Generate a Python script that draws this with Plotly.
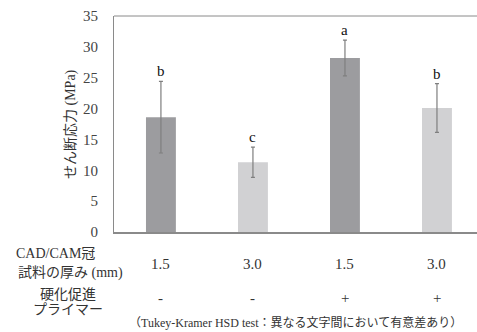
import plotly.graph_objects as go

# Shear stress by specimen thickness and primer use
thickness = ["1.5", "3.0", "1.5", "3.0"]
primer = ["-", "-", "+", "+"]
means = [18.6, 11.3, 28.2, 20.1]
sds = [5.8, 2.45, 2.9, 3.95]
letters = ["b", "c", "a", "b"]
bar_colors = ["#9c9c9f", "#d1d1d3", "#9c9c9f", "#d1d1d3"]
y_ticks = [0, 5, 10, 15, 20, 25, 30, 35]

W, H = 477, 332
L, R, T, B = 114, 0, 16, 100
pw = W - L - R
ph = H - T - B
x_lo, x_hi = -0.51, 3.435

serif = "'Liberation Serif', 'Times New Roman', 'Noto Sans CJK JP', serif"
txt = "#333333"

xs = list(range(len(means)))

fig = go.Figure()
fig.add_trace(go.Bar(
    x=xs, y=means, width=0.325,
    marker=dict(color=bar_colors, line=dict(width=0)),
    error_y=dict(type="data", array=sds, visible=True,
                 color="#7f7f7f", thickness=1.2, width=2),
    hoverinfo="skip",
))

def px_x(p):
    return (p - L) / pw

def px_y(p):
    return 1 - (p - T) / ph

def label(x, y, text, size=14, xref="paper", **kw):
    d = dict(x=x, y=y, xref=xref, yref="paper", text=text, showarrow=False,
             xanchor="center", yanchor="middle",
             font=dict(family=serif, size=size, color=txt))
    d.update(kw)
    return d

ann = []
# significance letters above error bars
for i, (m, s, l) in enumerate(zip(means, sds, letters)):
    ann.append(dict(x=i, y=m + s, xref="x", yref="y", text=l, showarrow=False,
                    xanchor="center", yanchor="bottom", yshift=0,
                    font=dict(family=serif, size=15, color="#111111")))

# row values under each bar
for i, (t, p) in enumerate(zip(thickness, primer)):
    ann.append(label(i, px_y(264), t, size=15, xref="x"))
    ann.append(label(i, px_y(298), p, size=15, xref="x"))

# row headers, y-axis title and footnote
ann += [
    label(px_x(55), px_y(253), "CAD/CAM冠", size=14),
    label(px_x(70), px_y(273), "試料の厚み (mm)", size=14),
    label(px_x(68), px_y(294), "硬化促進", size=14),
    label(px_x(68), px_y(309), "プライマー", size=14),
    label(px_x(128), px_y(315), "（Tukey-Kramer HSD test：異なる文字間において有意差あり）",
          size=12, xanchor="left", yanchor="top", borderpad=0),
    label(px_x(71), px_y(124), "せん断応力 (MPa)", size=14, textangle=-90),
]

fig.update_layout(
    width=W, height=H,
    margin=dict(l=L, r=R, t=T, b=B, pad=0),
    paper_bgcolor="white", plot_bgcolor="white",
    showlegend=False,
    annotations=ann,
    shapes=[dict(type="line", xref="paper", yref="paper", x0=0, x1=1, y0=1, y1=1,
                 line=dict(color="#8a8a8a", width=1))],
    xaxis=dict(range=[x_lo, x_hi], showticklabels=False, showgrid=False, zeroline=False,
               showline=True, linecolor="#8a8a8a", linewidth=1.5, ticks=""),
    yaxis=dict(range=[0, 35], tickvals=y_ticks, showgrid=False, zeroline=False,
               showline=True, linecolor="#8a8a8a", linewidth=1, ticks="",
               ticklabelstandoff=12,
               tickfont=dict(family=serif, size=15, color="#444444")),
)

fig.write_html("out.html")
